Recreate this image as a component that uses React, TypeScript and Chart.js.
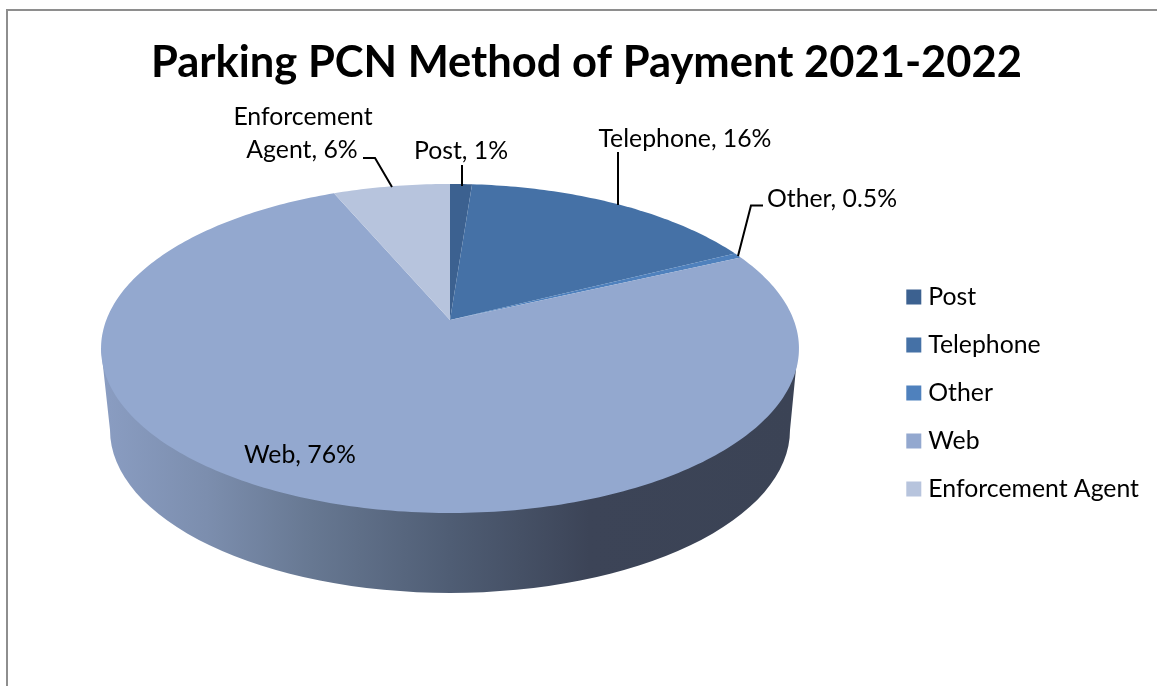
import React, { useEffect, useRef } from "react";
import { Chart, registerables } from "chart.js";

Chart.register(...registerables);

const categories = ["Post", "Telephone", "Other", "Web", "Enforcement Agent"];
const shares = [1.2, 16.4, 0.5, 75.5, 6.4];
const sliceColors = ["#3c6190", "#4571a6", "#4f81bd", "#93a8cf", "#b7c4dd"];
const titleText = "Parking PCN Method of Payment 2021-2022";

const FONT = "Lato";
const CX = 450;
const CY = 320;
const K = -0.173;
const A = 159.6;
const B = 343.7;

function project(angle: number) {
  const u = Math.cos(angle);
  const v = Math.sin(angle);
  const d = 1 + K * v;
  return { x: CX + (B * u) / d, y: CY + (A * v) / d };
}

const piePlugin = {
  id: "perspectivePie",
  beforeDatasetsDraw(chart: any) {
    const ctx = chart.ctx as CanvasRenderingContext2D;
    ctx.save();
    // chart frame
    ctx.strokeStyle = "#8e8e8e";
    ctx.lineWidth = 2;
    ctx.strokeRect(7, 10, 1300, 900);

    // side wall
    const grad = ctx.createLinearGradient(102, 0, 798, 0);
    grad.addColorStop(0, "#8a9dc2");
    grad.addColorStop(0.15, "#7c8eae");
    grad.addColorStop(0.3, "#677892");
    grad.addColorStop(0.5, "#4f5d74");
    grad.addColorStop(0.7, "#3c4457");
    grad.addColorStop(1, "#3b4355");
    ctx.fillStyle = grad;
    ctx.beginPath();
    ctx.moveTo(101, 348);
    ctx.lineTo(110, 430);
    ctx.ellipse(450, 430, 340, 163, 0, Math.PI, 0, true);
    ctx.lineTo(798, 348);
    ctx.closePath();
    ctx.fill();

    // top face, from the arc elements the pie controller computed
    const arcs = chart.getDatasetMeta(0).data as any[];
    arcs.forEach((arc, i) => {
      const start = arc.startAngle as number;
      const end = arc.endAngle as number;
      const steps = Math.max(4, Math.ceil((end - start) * 60));
      ctx.beginPath();
      ctx.moveTo(CX, CY);
      for (let s = 0; s <= steps; s++) {
        const p = project(start + ((end - start) * s) / steps);
        ctx.lineTo(p.x, p.y);
      }
      ctx.closePath();
      ctx.fillStyle = sliceColors[i];
      ctx.fill();
    });

    // leader lines
    ctx.strokeStyle = "#000000";
    ctx.lineWidth = 2;
    const leaders = [
      [[363, 158], [375, 158], [392, 187]],
      [[462, 165], [462, 186]],
      [[618, 152], [618, 205]],
      [[763, 205.5], [751, 205.5], [738, 256]],
    ];
    leaders.forEach((pts) => {
      ctx.beginPath();
      pts.forEach(([x, y], j) => (j ? ctx.lineTo(x, y) : ctx.moveTo(x, y)));
      ctx.stroke();
    });

    // data labels
    ctx.fillStyle = "#000000";
    ctx.font = `24.8px ${FONT}`;
    ctx.textAlign = "center";
    ctx.textBaseline = "middle";
    const labels: [string, number, number][] = [
      ["Enforcement", 303, 117],
      ["Agent, 6%", 302, 150],
      ["Post, 1%", 461, 151],
      ["Telephone, 16%", 685, 139],
      ["Other, 0.5%", 832, 199],
      ["Web, 76%", 300, 455],
    ];
    labels.forEach(([t, x, y]) => ctx.fillText(t, x, y));
    ctx.restore();
    return false;
  },
};

export default function App() {
  const ref = useRef<HTMLCanvasElement>(null);
  useEffect(() => {
    const chart = new Chart(ref.current!, {
      type: "pie",
      data: {
        labels: categories,
        datasets: [{ data: shares, backgroundColor: sliceColors, borderWidth: 0 }],
      },
      options: {
        responsive: false,
        animation: false,
        devicePixelRatio: 1,
        layout: { padding: { left: 24, right: 8, top: 0, bottom: 0 } },
        plugins: {
          tooltip: { enabled: false },
          title: {
            display: true,
            text: titleText,
            color: "#000000",
            font: { family: FONT, size: 43.5, weight: "bold" },
            padding: { top: 36.5, bottom: 11.5 },
          },
          legend: {
            display: true,
            position: "right",
            fullSize: false,
            labels: {
              usePointStyle: true,
              pointStyle: "rect",
              boxWidth: 4.2,
              boxHeight: 15,
              padding: 23.2,
              color: "#000000",
              font: { family: FONT, size: 24.8 },
            },
          },
        },
      },
      plugins: [piePlugin],
    });
    return () => chart.destroy();
  }, []);
  return (
    <canvas
      ref={ref}
      width={1157}
      height={686}
      style={{ position: "absolute", left: 0, top: 0, display: "block" }}
    />
  );
}
